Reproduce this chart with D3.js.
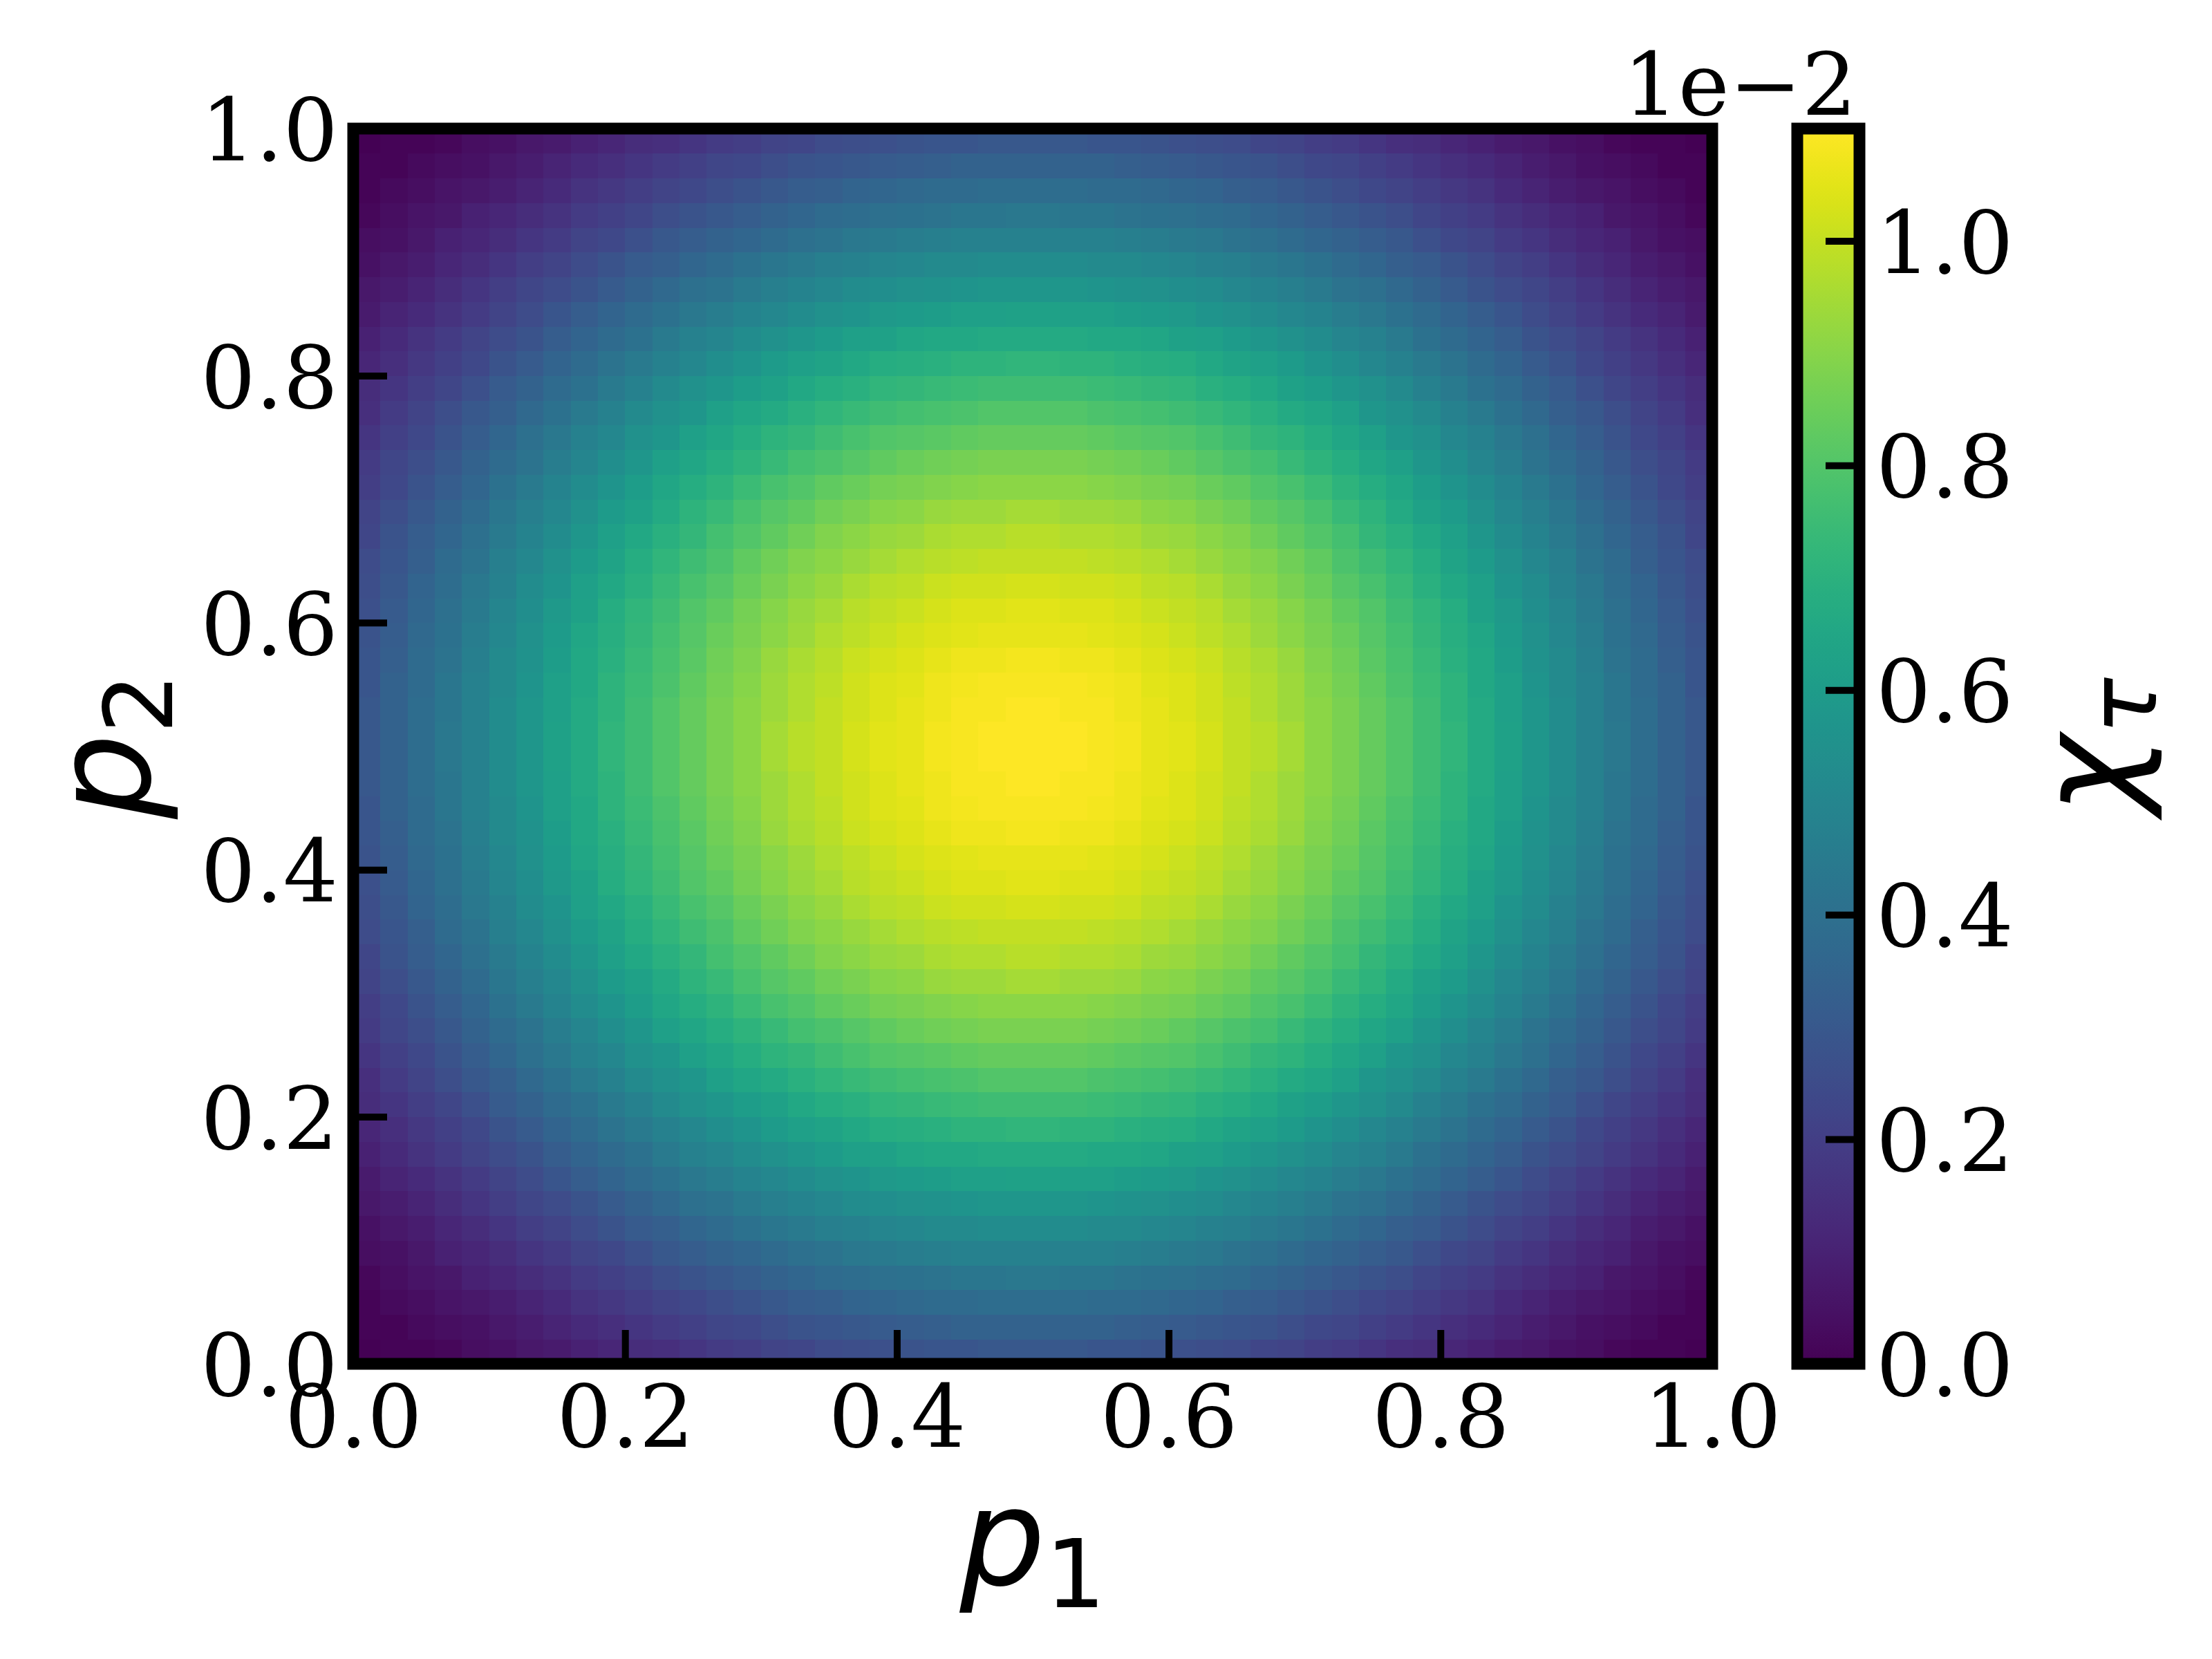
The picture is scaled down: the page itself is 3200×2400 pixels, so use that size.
<!DOCTYPE html>
<html>
<head>
<meta charset="utf-8">
<script src="https://cdn.jsdelivr.net/npm/d3@7"></script>
<style>html,body{margin:0;padding:0;background:#fff;}</style>
</head>
<body>
<svg id="chart" width="3200" height="2400"></svg>
<script>
// ---------------- data ----------------
const p1Ticks = [0, 0.2, 0.4, 0.6, 0.8, 1.0];
const p2Ticks = [0, 0.2, 0.4, 0.6, 0.8, 1.0];
const cbarTicks = [0, 0.2, 0.4, 0.6, 0.8, 1.0];   // colourbar ticks, in units of 1e-2
const cbarOffsetText = "1e\u22122";
const xLabel = {base: "p", sub: "1"};
const yLabel = {base: "p", sub: "2"};
const cLabel = {base: "\u03c7", sub: "\u03c4"};
// chiE4[j][i] : chi_tau x 1e4, rows j = p2 bins (bottom -> top), columns i = p1 bins (left -> right), 50 x 50 grid on [0,1]^2
const chiE4 = [
[0,1,1,2,4,5,7,8,10,12,14,15,17,19,20,22,23,25,26,27,28,29,29,30,30,30,30,29,29,28,27,26,25,23,22,20,19,17,15,14,12,10,8,7,5,4,2,1,1,0],
[1,1,3,4,5,7,9,11,13,15,17,19,21,23,24,26,28,29,30,31,32,33,34,34,34,34,34,34,33,32,31,30,29,28,26,24,23,21,19,17,15,13,11,9,7,5,4,3,1,1],
[1,3,4,6,7,9,11,13,16,18,20,22,24,26,28,30,32,33,35,36,37,38,38,39,39,39,39,38,38,37,36,35,33,32,30,28,26,24,22,20,18,16,13,11,9,7,6,4,3,1],
[2,4,6,7,10,12,14,16,19,21,23,26,28,30,32,34,36,38,39,40,41,42,43,43,44,44,43,43,42,41,40,39,38,36,34,32,30,28,26,23,21,19,16,14,12,10,7,6,4,2],
[4,5,7,10,12,14,17,19,22,24,27,30,32,34,36,38,40,42,44,45,46,47,48,48,48,48,48,48,47,46,45,44,42,40,38,36,34,32,30,27,24,22,19,17,14,12,10,7,5,4],
[5,7,9,12,14,17,20,22,25,28,31,33,36,38,41,43,45,47,48,50,51,52,52,53,53,53,53,52,52,51,50,48,47,45,43,41,38,36,33,31,28,25,22,20,17,14,12,9,7,5],
[7,9,11,14,17,20,23,25,28,31,34,37,40,42,45,47,49,51,53,54,55,56,57,58,58,58,58,57,56,55,54,53,51,49,47,45,42,40,37,34,31,28,25,23,20,17,14,11,9,7],
[8,11,13,16,19,22,25,29,32,35,38,41,44,46,49,51,53,55,57,59,60,61,62,62,63,63,62,62,61,60,59,57,55,53,51,49,46,44,41,38,35,32,29,25,22,19,16,13,11,8],
[10,13,16,19,22,25,28,32,35,38,41,45,48,50,53,55,58,60,62,63,65,66,66,67,67,67,67,66,66,65,63,62,60,58,55,53,50,48,45,41,38,35,32,28,25,22,19,16,13,10],
[12,15,18,21,24,28,31,35,38,42,45,48,51,54,57,60,62,64,66,68,69,70,71,71,72,72,71,71,70,69,68,66,64,62,60,57,54,51,48,45,42,38,35,31,28,24,21,18,15,12],
[14,17,20,23,27,31,34,38,41,45,48,52,55,58,61,63,66,68,70,72,73,74,75,76,76,76,76,75,74,73,72,70,68,66,63,61,58,55,52,48,45,41,38,34,31,27,23,20,17,14],
[15,19,22,26,30,33,37,41,45,48,52,55,58,62,65,67,70,72,74,76,77,78,79,80,80,80,80,79,78,77,76,74,72,70,67,65,62,58,55,52,48,45,41,37,33,30,26,22,19,15],
[17,21,24,28,32,36,40,44,48,51,55,58,62,65,68,71,73,76,78,80,81,82,83,84,84,84,84,83,82,81,80,78,76,73,71,68,65,62,58,55,51,48,44,40,36,32,28,24,21,17],
[19,23,26,30,34,38,42,46,50,54,58,62,65,68,71,74,77,79,81,83,85,86,87,88,88,88,88,87,86,85,83,81,79,77,74,71,68,65,62,58,54,50,46,42,38,34,30,26,23,19],
[20,24,28,32,36,41,45,49,53,57,61,65,68,71,75,78,80,83,85,87,88,89,90,91,91,91,91,90,89,88,87,85,83,80,78,75,71,68,65,61,57,53,49,45,41,36,32,28,24,20],
[22,26,30,34,38,43,47,51,55,60,63,67,71,74,78,81,83,86,88,90,91,93,94,94,95,95,94,94,93,91,90,88,86,83,81,78,74,71,67,63,60,55,51,47,43,38,34,30,26,22],
[23,28,32,36,40,45,49,53,58,62,66,70,73,77,80,83,86,89,91,93,94,96,97,97,98,98,97,97,96,94,93,91,89,86,83,80,77,73,70,66,62,58,53,49,45,40,36,32,28,23],
[25,29,33,38,42,47,51,55,60,64,68,72,76,79,83,86,89,91,93,95,97,98,99,100,100,100,100,99,98,97,95,93,91,89,86,83,79,76,72,68,64,60,55,51,47,42,38,33,29,25],
[26,30,35,39,44,48,53,57,62,66,70,74,78,81,85,88,91,93,96,98,99,101,102,102,103,103,102,102,101,99,98,96,93,91,88,85,81,78,74,70,66,62,57,53,48,44,39,35,30,26],
[27,31,36,40,45,50,54,59,63,68,72,76,80,83,87,90,93,95,98,100,101,103,104,104,105,105,104,104,103,101,100,98,95,93,90,87,83,80,76,72,68,63,59,54,50,45,40,36,31,27],
[28,32,37,41,46,51,55,60,65,69,73,77,81,85,88,91,94,97,99,101,103,104,105,106,106,106,106,105,104,103,101,99,97,94,91,88,85,81,77,73,69,65,60,55,51,46,41,37,32,28],
[29,33,38,42,47,52,56,61,66,70,74,78,82,86,89,93,96,98,101,103,104,106,107,107,108,108,107,107,106,104,103,101,98,96,93,89,86,82,78,74,70,66,61,56,52,47,42,38,33,29],
[29,34,38,43,48,52,57,62,66,71,75,79,83,87,90,94,97,99,102,104,105,107,108,109,109,109,109,108,107,105,104,102,99,97,94,90,87,83,79,75,71,66,62,57,52,48,43,38,34,29],
[30,34,39,43,48,53,58,62,67,71,76,80,84,88,91,94,97,100,102,104,106,107,109,109,110,110,109,109,107,106,104,102,100,97,94,91,88,84,80,76,71,67,62,58,53,48,43,39,34,30],
[30,34,39,44,48,53,58,63,67,72,76,80,84,88,91,95,98,100,103,105,106,108,109,110,110,110,110,109,108,106,105,103,100,98,95,91,88,84,80,76,72,67,63,58,53,48,44,39,34,30],
[30,34,39,44,48,53,58,63,67,72,76,80,84,88,91,95,98,100,103,105,106,108,109,110,110,110,110,109,108,106,105,103,100,98,95,91,88,84,80,76,72,67,63,58,53,48,44,39,34,30],
[30,34,39,43,48,53,58,62,67,71,76,80,84,88,91,94,97,100,102,104,106,107,109,109,110,110,109,109,107,106,104,102,100,97,94,91,88,84,80,76,71,67,62,58,53,48,43,39,34,30],
[29,34,38,43,48,52,57,62,66,71,75,79,83,87,90,94,97,99,102,104,105,107,108,109,109,109,109,108,107,105,104,102,99,97,94,90,87,83,79,75,71,66,62,57,52,48,43,38,34,29],
[29,33,38,42,47,52,56,61,66,70,74,78,82,86,89,93,96,98,101,103,104,106,107,107,108,108,107,107,106,104,103,101,98,96,93,89,86,82,78,74,70,66,61,56,52,47,42,38,33,29],
[28,32,37,41,46,51,55,60,65,69,73,77,81,85,88,91,94,97,99,101,103,104,105,106,106,106,106,105,104,103,101,99,97,94,91,88,85,81,77,73,69,65,60,55,51,46,41,37,32,28],
[27,31,36,40,45,50,54,59,63,68,72,76,80,83,87,90,93,95,98,100,101,103,104,104,105,105,104,104,103,101,100,98,95,93,90,87,83,80,76,72,68,63,59,54,50,45,40,36,31,27],
[26,30,35,39,44,48,53,57,62,66,70,74,78,81,85,88,91,93,96,98,99,101,102,102,103,103,102,102,101,99,98,96,93,91,88,85,81,78,74,70,66,62,57,53,48,44,39,35,30,26],
[25,29,33,38,42,47,51,55,60,64,68,72,76,79,83,86,89,91,93,95,97,98,99,100,100,100,100,99,98,97,95,93,91,89,86,83,79,76,72,68,64,60,55,51,47,42,38,33,29,25],
[23,28,32,36,40,45,49,53,58,62,66,70,73,77,80,83,86,89,91,93,94,96,97,97,98,98,97,97,96,94,93,91,89,86,83,80,77,73,70,66,62,58,53,49,45,40,36,32,28,23],
[22,26,30,34,38,43,47,51,55,60,63,67,71,74,78,81,83,86,88,90,91,93,94,94,95,95,94,94,93,91,90,88,86,83,81,78,74,71,67,63,60,55,51,47,43,38,34,30,26,22],
[20,24,28,32,36,41,45,49,53,57,61,65,68,71,75,78,80,83,85,87,88,89,90,91,91,91,91,90,89,88,87,85,83,80,78,75,71,68,65,61,57,53,49,45,41,36,32,28,24,20],
[19,23,26,30,34,38,42,46,50,54,58,62,65,68,71,74,77,79,81,83,85,86,87,88,88,88,88,87,86,85,83,81,79,77,74,71,68,65,62,58,54,50,46,42,38,34,30,26,23,19],
[17,21,24,28,32,36,40,44,48,51,55,58,62,65,68,71,73,76,78,80,81,82,83,84,84,84,84,83,82,81,80,78,76,73,71,68,65,62,58,55,51,48,44,40,36,32,28,24,21,17],
[15,19,22,26,30,33,37,41,45,48,52,55,58,62,65,67,70,72,74,76,77,78,79,80,80,80,80,79,78,77,76,74,72,70,67,65,62,58,55,52,48,45,41,37,33,30,26,22,19,15],
[14,17,20,23,27,31,34,38,41,45,48,52,55,58,61,63,66,68,70,72,73,74,75,76,76,76,76,75,74,73,72,70,68,66,63,61,58,55,52,48,45,41,38,34,31,27,23,20,17,14],
[12,15,18,21,24,28,31,35,38,42,45,48,51,54,57,60,62,64,66,68,69,70,71,71,72,72,71,71,70,69,68,66,64,62,60,57,54,51,48,45,42,38,35,31,28,24,21,18,15,12],
[10,13,16,19,22,25,28,32,35,38,41,45,48,50,53,55,58,60,62,63,65,66,66,67,67,67,67,66,66,65,63,62,60,58,55,53,50,48,45,41,38,35,32,28,25,22,19,16,13,10],
[8,11,13,16,19,22,25,29,32,35,38,41,44,46,49,51,53,55,57,59,60,61,62,62,63,63,62,62,61,60,59,57,55,53,51,49,46,44,41,38,35,32,29,25,22,19,16,13,11,8],
[7,9,11,14,17,20,23,25,28,31,34,37,40,42,45,47,49,51,53,54,55,56,57,58,58,58,58,57,56,55,54,53,51,49,47,45,42,40,37,34,31,28,25,23,20,17,14,11,9,7],
[5,7,9,12,14,17,20,22,25,28,31,33,36,38,41,43,45,47,48,50,51,52,52,53,53,53,53,52,52,51,50,48,47,45,43,41,38,36,33,31,28,25,22,20,17,14,12,9,7,5],
[4,5,7,10,12,14,17,19,22,24,27,30,32,34,36,38,40,42,44,45,46,47,48,48,48,48,48,48,47,46,45,44,42,40,38,36,34,32,30,27,24,22,19,17,14,12,10,7,5,4],
[2,4,6,7,10,12,14,16,19,21,23,26,28,30,32,34,36,38,39,40,41,42,43,43,44,44,43,43,42,41,40,39,38,36,34,32,30,28,26,23,21,19,16,14,12,10,7,6,4,2],
[1,3,4,6,7,9,11,13,16,18,20,22,24,26,28,30,32,33,35,36,37,38,38,39,39,39,39,38,38,37,36,35,33,32,30,28,26,24,22,20,18,16,13,11,9,7,6,4,3,1],
[1,1,3,4,5,7,9,11,13,15,17,19,21,23,24,26,28,29,30,31,32,33,34,34,34,34,34,34,33,32,31,30,29,28,26,24,23,21,19,17,15,13,11,9,7,5,4,3,1,1],
[0,1,1,2,4,5,7,8,10,12,14,15,17,19,20,22,23,25,26,27,28,29,29,30,30,30,30,29,29,28,27,26,25,23,22,20,19,17,15,14,12,10,8,7,5,4,2,1,1,0]
];

// ---------------- layout ----------------
const ax = {x0: 511, x1: 2477, y0: 186, y1: 1973};
const cb = {x0: 2600, x1: 2690};
const SPINE = 17, TICKW = 10, TICKL = 49;
const SERIF = "DejaVu Serif", SANS = "DejaVu Sans";
const TICKFS = 125, LABFS = 195, SUBFS = 137, SUBDY = 32;

const svg = d3.select("#chart");
svg.append("rect").attr("width", 3200).attr("height", 2400).attr("fill", "#fff");

const nRows = chiE4.length, nCols = chiE4[0].length;
const x = d3.scaleLinear().domain([0, 1]).range([ax.x0, ax.x1]);
const y = d3.scaleLinear().domain([0, 1]).range([ax.y1, ax.y0]);

const values = chiE4.flat().map(v => v * 1e-4);
const [vmin, vmax] = d3.extent(values);
const color = d3.scaleSequential(d3.interpolateViridis).domain([vmin, vmax]);

// heatmap cells
const cells = [];
chiE4.forEach((row, j) => row.forEach((v, i) => cells.push({i, j, v: v * 1e-4})));
svg.append("g").attr("shape-rendering", "crispEdges")
  .selectAll("rect").data(cells).join("rect")
  .attr("x", d => x(d.i / nCols))
  .attr("y", d => y((d.j + 1) / nRows))
  .attr("width", d => x((d.i + 1) / nCols) - x(d.i / nCols) + 0.6)
  .attr("height", d => y(d.j / nRows) - y((d.j + 1) / nRows) + 0.6)
  .attr("fill", d => color(d.v));

// axes
function styleAxis(g) {
  g.select(".domain").remove();
  g.selectAll(".tick line").attr("stroke", "#000").attr("stroke-width", TICKW);
  g.selectAll(".tick text").attr("fill", "#000")
    .style("font-family", SERIF).style("font-size", TICKFS + "px");
}
const fmt = d3.format(".1f");

svg.append("g").attr("transform", `translate(0,${ax.y1})`)
  .call(d3.axisBottom(x).tickValues(p1Ticks).tickFormat(fmt).tickSize(-TICKL).tickPadding(31))
  .call(styleAxis);

svg.append("g").attr("transform", `translate(${ax.x0},0)`)
  .call(d3.axisLeft(y).tickValues(p2Ticks).tickFormat(fmt).tickSize(-TICKL).tickPadding(22))
  .call(styleAxis)
  .call(g => g.selectAll(".tick text").attr("dy", "0.365em"));

// colourbar
const cbScale = d3.scaleLinear().domain([vmin / 1e-2, vmax / 1e-2]).range([ax.y1, ax.y0]);
const defs = svg.append("defs");
const grad = defs.append("linearGradient").attr("id", "cbgrad")
  .attr("x1", 0).attr("y1", 1).attr("x2", 0).attr("y2", 0);
d3.range(0, 1.0001, 1 / 64).forEach(t => grad.append("stop")
  .attr("offset", t).attr("stop-color", d3.interpolateViridis(t)));
svg.append("rect").attr("x", cb.x0).attr("y", ax.y0)
  .attr("width", cb.x1 - cb.x0).attr("height", ax.y1 - ax.y0)
  .attr("fill", "url(#cbgrad)");

svg.append("g").attr("transform", `translate(${cb.x1},0)`)
  .call(d3.axisRight(cbScale).tickValues(cbarTicks).tickFormat(fmt).tickSize(-TICKL).tickPadding(24))
  .call(styleAxis)
  .call(g => g.selectAll(".tick text").attr("dy", "0.365em"));

// spines
svg.append("rect").attr("x", ax.x0).attr("y", ax.y0)
  .attr("width", ax.x1 - ax.x0).attr("height", ax.y1 - ax.y0)
  .attr("fill", "none").attr("stroke", "#000").attr("stroke-width", SPINE);
svg.append("rect").attr("x", cb.x0).attr("y", ax.y0)
  .attr("width", cb.x1 - cb.x0).attr("height", ax.y1 - ax.y0)
  .attr("fill", "none").attr("stroke", "#000").attr("stroke-width", SPINE);

// offset text
svg.append("text").attr("x", 2686).attr("y", 166).attr("text-anchor", "end")
  .style("font-family", SERIF).style("font-size", TICKFS + "px").text(cbarOffsetText);

// labels
function mathLabel(tx, ty, rot, lab) {
  const t = svg.append("text")
    .attr("transform", `translate(${tx},${ty}) rotate(${rot})`)
    .attr("text-anchor", "middle")
    .style("font-family", SANS).style("font-size", LABFS + "px");
  t.append("tspan").style("font-style", "italic").text(lab.base);
  const isDigit = /[0-9]/.test(lab.sub);
  t.append("tspan").attr("dy", SUBDY).style("font-size", SUBFS + "px")
    .style("font-style", isDigit ? "normal" : "italic").text(lab.sub);
}
mathLabel((ax.x0 + ax.x1) / 2, 2293, 0, xLabel);
mathLabel(217, (ax.y0 + ax.y1) / 2, -90, yLabel);
mathLabel(3087, (ax.y0 + ax.y1) / 2, -90, cLabel);
</script>
</body>
</html>
